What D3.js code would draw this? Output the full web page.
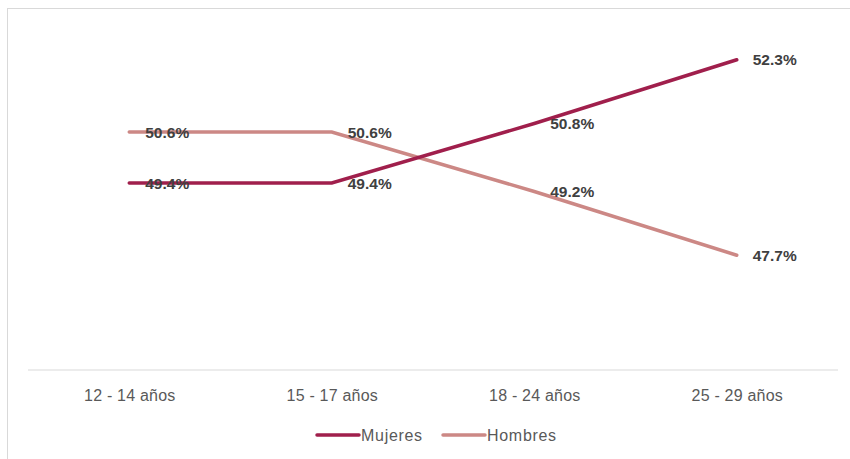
<!DOCTYPE html>
<html>
<head>
<meta charset="utf-8">
<title>Mujeres y hombres por grupo de edad</title>
<script src="https://cdn.jsdelivr.net/npm/d3@7"></script>
<style>
body { margin: 0; background: #fff; }
</style>
</head>
<body>
<script>
var categories = ["12 - 14 años", "15 - 17 años", "18 - 24 años", "25 - 29 años"];
var mujeres = [49.4, 49.4, 50.8, 52.3];
var hombres = [50.6, 50.6, 49.2, 47.7];
var seriesNames = ["Mujeres", "Hombres"];
var seriesColors = ["#a01f4c", "#cc8885"];

var w = 850,
    h = 459;

var svg = d3.select("body")
            .append("svg")
            .attr("width", w)
            .attr("height", h);

// chart frame (only top and left edges show in the crop)
svg.append("rect")
   .attr("x", 7.5).attr("y", 8.5)
   .attr("width", 900).attr("height", 500)
   .attr("fill", "none")
   .attr("stroke", "#d9d9d9");

var x = d3.scalePoint()
          .domain(categories)
          .range([28, 838])
          .padding(0.5);

var y = d3.scaleLinear()
          .domain([45, 53])
          .range([370, 30]);

var xAxis = d3.axisBottom(x).tickSize(0).tickSizeOuter(0).tickPadding(20);

var gx = svg.append("g")
   .attr("transform", "translate(0,370)")
   .call(xAxis);
gx.select(".domain").attr("stroke", "#d9d9d9").attr("stroke-width", 1)
  .attr("d", "M28,0H838");
gx.selectAll("text")
  .attr("fill", "#595959")
  .style("font-family", "'Liberation Sans', Arial, sans-serif")
  .style("font-size", "16px")
  .style("letter-spacing", "0.2px");

var series = [
  { name: seriesNames[0], values: mujeres, color: seriesColors[0] },
  { name: seriesNames[1], values: hombres, color: seriesColors[1] }
];

var line = d3.line()
   .x(function(d, i) { return x(categories[i]); })
   .y(function(d) { return y(d); });

// draw Hombres first so Mujeres sits on top
series.slice().reverse().forEach(function(s) {
  svg.append("path")
     .attr("d", line(s.values))
     .attr("fill", "none")
     .attr("stroke", s.color)
     .attr("stroke-width", 3.5)
     .attr("stroke-linecap", "round");
});

series.forEach(function(s) {
  svg.selectAll(null)
     .data(s.values)
     .enter()
     .append("text")
     .attr("x", function(d, i) { return x(categories[i]) + 16; })
     .attr("y", function(d) { return y(d); })
     .attr("dy", "0.36em")
     .attr("fill", "#404040")
     .style("font-family", "'Liberation Sans', Arial, sans-serif")
     .style("font-weight", "bold")
     .style("font-size", "15.5px")
     .text(function(d) { return d.toFixed(1) + "%"; });
});

// legend
var legendX = [317, 443];
series.forEach(function(s, i) {
  var g = svg.append("g").attr("transform", "translate(" + legendX[i] + ",435)");
  g.append("line")
   .attr("x1", 0).attr("x2", 42)
   .attr("y1", 0).attr("y2", 0)
   .attr("stroke", s.color)
   .attr("stroke-width", 3.5)
   .attr("stroke-linecap", "round");
  g.append("text")
   .attr("x", 44)
   .attr("dy", "0.35em")
   .attr("fill", "#595959")
   .style("font-family", "'Liberation Sans', Arial, sans-serif")
   .style("font-size", "16px")
   .style("letter-spacing", "0.7px")
   .text(s.name);
});
</script>
</body>
</html>
